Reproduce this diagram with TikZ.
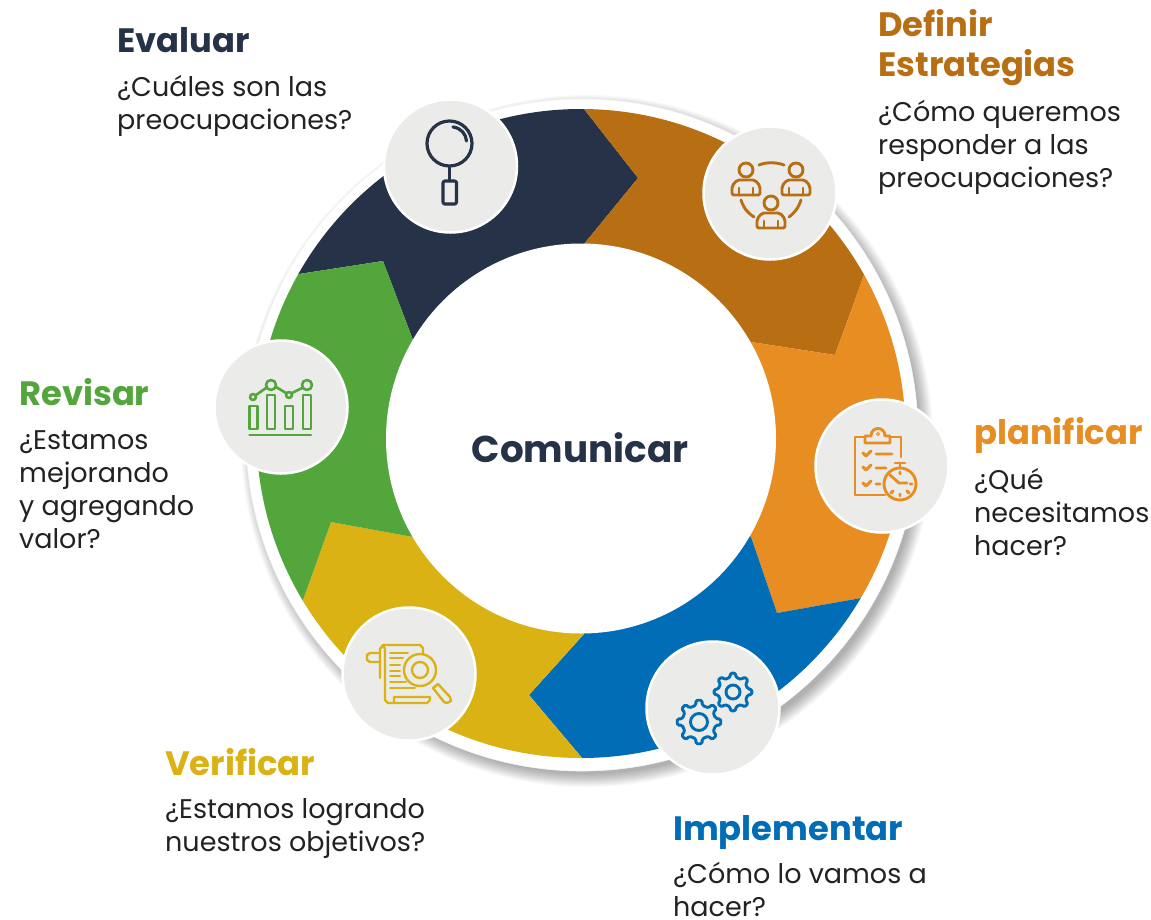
\documentclass[tikz,border=0pt]{standalone}
\usepackage{fontspec}
\setmainfont{Poppins}
\usetikzlibrary{calc}
\definecolor{cnavy}{HTML}{263248}
\definecolor{cbrown}{HTML}{B86F14}
\definecolor{corange}{HTML}{E88D22}
\definecolor{cblue}{HTML}{006DB6}
\definecolor{cyellow}{HTML}{DAB213}
\definecolor{cgreen}{HTML}{53A63B}
\definecolor{cdisc}{HTML}{EBEBE9}
\definecolor{ctext}{HTML}{222222}
\tikzset{
  x=1pt,y=-1pt,
  disc/.style={circle,draw=white,line width=2.5pt,fill=cdisc,minimum size=133pt,inner sep=0pt},
  head/.style={anchor=base west,font=\fontsize{33.8}{40}\selectfont\bfseries,inner sep=0pt,align=left},
  body/.style={anchor=base west,font=\fontsize{27}{33}\selectfont,text=ctext,inner sep=0pt,align=left},
  ico/.style={line width=2.9pt,line cap=round,line join=round,fill=none},
}
\newcommand{\gearshape}[5]{%
 \draw (#1,#2) circle (#5);
 \draw[rounded corners=1.5pt] ({#1+#3*cos(-11)},{#2+#3*sin(-11)})
  \foreach \a in {0,45,...,315}{
    -- ({#1+#3*cos(\a-11)},{#2+#3*sin(\a-11)})
    -- ({#1+#4*cos(\a-8)},{#2+#4*sin(\a-8)})
    -- ({#1+#4*cos(\a+8)},{#2+#4*sin(\a+8)})
    -- ({#1+#3*cos(\a+11)},{#2+#3*sin(\a+11)})
  } -- cycle;
}
\begin{document}
\begin{tikzpicture}
\useasboundingbox (0,0) rectangle (1151,919);
\fill[white] (0,0) rectangle (1151,919);
% shadow
\foreach \k in {0,...,13}{
  \fill[black,opacity=0.022] (587,441) circle ({346-\k});
}
\fill[white] (582,435) circle (336);
\draw[black!4,line width=0.6pt] (582,435) circle (336);
% segments
\coordinate (c) at (581,433.5);
\coordinate (d) at (581,438.5);
\begin{scope}
\clip (c) circle (324.5);
\fill[cnavy]  (584,100)--(584,109)--(638,178)--(584,244)--(581,439)--(413,340)--(383,261)--(299,274)--(150,300)--(150,50)--cycle;
\fill[cbrown] (584,100)--(584,109)--(638,178)--(584,244)--(581,439)--(751,342)--(835,355)--(864,275)--(1000,100)--cycle;
\fill[corange] (864,275)--(835,355)--(751,342)--(581,439)--(751,537)--(777,613)--(861,598)--(1000,600)--(1000,100)--cycle;
\fill[cblue] (861,598)--(777,613)--(751,537)--(581,439)--(584,634)--(529,695)--(583,759)--(583,800)--(1000,800)--(1000,600)--cycle;
\fill[cyellow] (583,800)--(583,759)--(529,695)--(584,634)--(581,439)--(413,537)--(331,522)--(303,600)--(150,800)--cycle;
\fill[cgreen] (303,600)--(331,522)--(413,537)--(581,439)--(413,340)--(383,261)--(299,274)--(150,300)--(150,700)--cycle;
\end{scope}
\draw[corange!92!gray,line width=0.4pt] (751,537)--(835,588);
\fill[white] (d) circle (195);
\node[disc] (n1) at (450.5,166) {};
\node[disc] (n2) at (770,193) {};
\node[disc] (n3) at (882,466) {};
\node[disc] (n4) at (713,708) {};
\node[disc] (n5) at (409,674) {};
\node[disc] (n6) at (281,407) {};
\node[anchor=base,font=\fontsize{37.3}{44}\selectfont\bfseries,text=cnavy,inner sep=0pt] (centre) at (580,462.5) {Comunicar};
% navy icon
\begin{scope}[ico,draw=cnavy,line width=3.2pt]
\draw (449.5,143.5) circle (22.5);
\draw (453,127) .. controls (461,128) and (466,134) .. (466.5,141);
\draw (449.5,167)--(449.5,180);
\draw[rounded corners=2pt] (443,181) rectangle (456.5,204);
\end{scope}
% brown icon
\begin{scope}[ico,draw=cbrown]
\foreach \x/\y in {746/170,796/170,771/203}{
 \draw (\x,\y) circle (7);
 \draw[rounded corners=2pt] (\x-14,\y+25)--(\x-14,\y+16)--(\x-9,\y+10)--(\x+9,\y+10)--(\x+14,\y+16)--(\x+14,\y+25)--cycle;
 \draw (\x-7,\y+18)--(\x-7,\y+25) (\x+7,\y+18)--(\x+7,\y+25);
}
\draw (759,165) .. controls (766,162) and (776,162) .. (784,165);
\draw (741,200) .. controls (744,209) and (748,213) .. (754,217);
\draw (801,200) .. controls (798,209) and (794,213) .. (789,217);
\end{scope}
% orange icon
\begin{scope}[ico,draw=corange]
\draw (901,457)--(901,437)--(890,437) (865,437)--(855,437)--(855,495)--(885,495);
\draw (865,443)--(865,436)--(871,436) .. controls (871,426) and (885,426) .. (885,436)--(890,436)--(890,443)--cycle;
\draw[line width=0.8pt] (878,434) circle (1.5);
\draw (863,453)--(866,456)--(871,451) (876,454)--(892,454);
\draw (863,467)--(866,470)--(871,465) (876,468)--(886,468);
\draw (863,483)--(866,486)--(871,481) (876,484)--(880,484);
\draw (900,484) circle (16);
\draw (895,463)--(905,463) (900,463)--(900,468);
\draw (890,475)--(899,483)--(907,483);
\draw (900,472)--(900,474) (912,484)--(910,484) (900,496)--(900,494) (891,493)--(893,491) (909,493)--(907,491);
\end{scope}
% blue icon
\begin{scope}[ico,draw=cblue]
\gearshape{699}{722}{17}{22}{8.5}
\gearshape{733}{692}{15}{19}{7}
\end{scope}
% yellow icon
\begin{scope}[ico,draw=cyellow,line width=2.4pt]
\draw (380,653)--(370,653)--(367,655)--(367,660)--(370,662)--(380,662);
\draw (380,678)--(380,649)--(383,645)--(385,649)--(385,680);
\draw (383,645)--(420,645)--(423,648)--(423,653);
\draw (385,680)--(385,700)--(388,703)--(427,703)--(430,700)--(430,697)--(394,697)--(394,703);
\draw[line width=2pt] (390,653)--(408,653) (390,658)--(403,658) (390,665)--(400,665) (390,671)--(400,671) (390,676)--(400,676) (390,682)--(406,682) (390,688)--(415,688);
\draw (420,670) circle (16);
\draw (420,670) circle (8);
\draw (433,688)--(438,684)--(450,697)--(451,701)--(447,703)--(444,702)--cycle;
\end{scope}
% green icon
\begin{scope}[ico,draw=cgreen,line width=2.6pt]
\draw (249.5,406) rectangle (257.5,429);
\draw (267,395) rectangle (275,429);
\draw (285,406) rectangle (293,429);
\draw (303,395) rectangle (311,429);
\draw (249.5,435)--(311,435);
\draw (253,397) circle (3);
\draw (271,385) circle (5);
\draw (289,395) circle (3);
\draw (307,385) circle (5);
\draw (256,395)--(266,388) (276,387)--(286,393) (292,393)--(302,388);
\end{scope}
% labels
\node[head,text=cnavy] (t1) at (117,52) {Evaluar};
\node[body] (b1) at (117,129.5) {¿Cuáles son las\\preocupaciones?};
\node[head,text=cbrown] (t2) at (878,76.5) {Definir\\Estrategias};
\node[body] (b2) at (878,187.5) {¿Cómo queremos\\responder a las\\preocupaciones?};
\node[head,text=corange] (t3) at (974,444) {planificar};
\node[body] (b3) at (974,555.5) {¿Qué\\necesitamos\\hacer?};
\node[head,text=cblue] (t4) at (673,840) {Implementar};
\node[body] (b4) at (673,916.5) {¿Cómo lo vamos a\\hacer?};
\node[head,text=cyellow] (t5) at (165,775) {Verificar};
\node[body] (b5) at (165,851.5) {¿Estamos logrando\\nuestros objetivos?};
\node[head,text=cgreen] (t6) at (19,405) {Revisar};
\node[body] (b6) at (19,548.5) {¿Estamos\\mejorando\\y agregando\\valor?};
\end{tikzpicture}
\end{document}
